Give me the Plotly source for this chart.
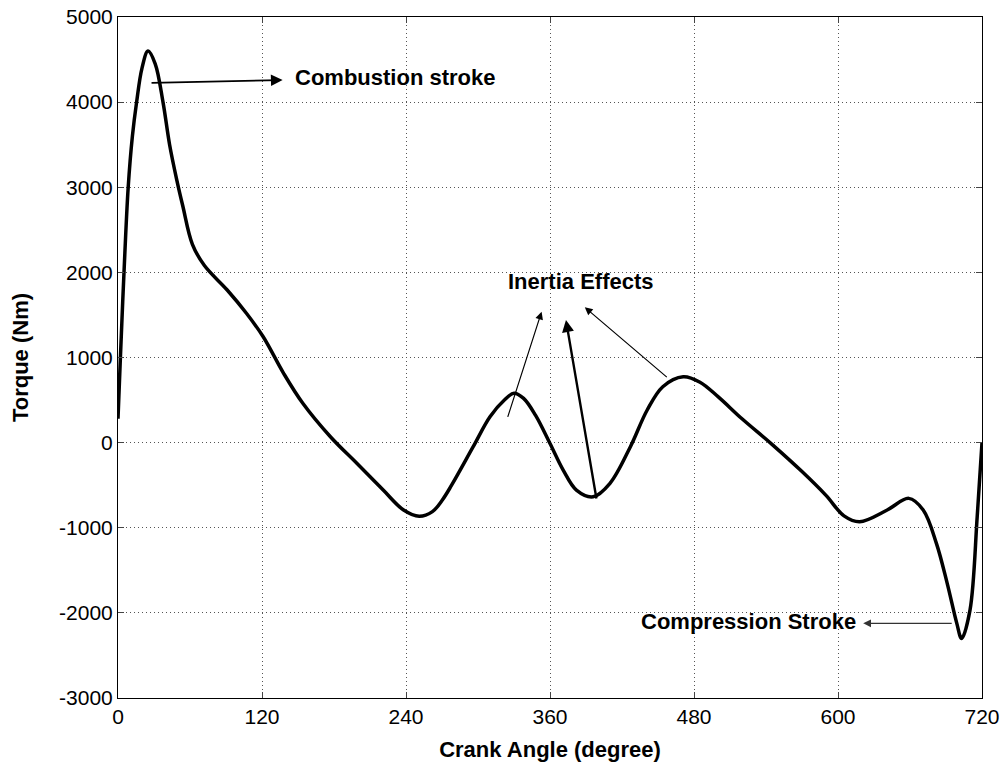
import plotly.graph_objects as go

crank_angle = [0, 2, 5, 8.5, 12, 15.5, 20, 25, 31, 37.5, 43, 49, 54, 62, 72, 91, 107, 121,
               138, 154, 177, 199, 221, 238, 251, 262, 270, 278, 296, 310, 322, 330, 338, 348,
               360, 371, 382, 396, 410, 427, 441, 454, 471, 485, 500, 520, 545, 570, 590, 605,
               618, 641, 659, 671, 682, 691, 699, 703, 710, 716, 720]
torque = [280, 1000, 2000, 3000, 3600, 4000, 4400, 4600, 4450, 4000, 3500, 3085, 2780, 2330,
          2080, 1793, 1520, 1244, 814, 462, 69, -243, -557, -792, -865, -810, -680, -500,
          -48, 304, 500, 580, 520, 320, -10, -322, -557, -636, -478, -48, 383, 657, 774, 710,
          540, 280, -20, -340, -620, -860, -929, -792, -655, -792, -1183, -1653, -2123, -2300,
          -1967, -870, 0]

x_ticks = [0, 120, 240, 360, 480, 600, 720]
y_ticks = [-3000, -2000, -1000, 0, 1000, 2000, 3000, 4000, 5000]

FONT = "Liberation Sans, Arial, sans-serif"

fig = go.Figure()
fig.add_trace(go.Scatter(x=crank_angle, y=torque, mode="lines",
                         line=dict(color="black", width=3.5, shape="spline", smoothing=1.0),
                         showlegend=False, hoverinfo="skip"))

def arrow(x, y, ax, ay, width=1.2, color="black", size=1.3):
    fig.add_annotation(x=x, y=y, ax=ax, ay=ay, xref="x", yref="y", axref="x", ayref="y",
                       text="", showarrow=True, arrowhead=2, arrowsize=size,
                       arrowwidth=width, arrowcolor=color, standoff=0, startstandoff=0)

# Combustion stroke
arrow(137.2, 4260, 26.7, 4225, width=1.8)
fig.add_annotation(x=145.8, y=4284, xref="x", yref="y", text="<b>Combustion stroke</b>",
                   showarrow=False, xanchor="left", yanchor="middle",
                   font=dict(family=FONT, size=22, color="black"))
# Inertia effects
fig.add_annotation(x=385.8, y=1887, xref="x", yref="y", text="<b>Inertia Effects</b>",
                   showarrow=False, xanchor="center", yanchor="middle",
                   font=dict(family=FONT, size=22, color="black"))
arrow(353, 1538, 324.4, 285, width=1.2)
arrow(373.3, 1440, 398.9, -674, width=2.4, size=1.0)
arrow(389, 1590, 458.6, 755, width=1.2)
# Compression stroke
arrow(621, -2123, 696, -2123, width=1.2, color="#333333")
fig.add_annotation(x=617, y=-2100, xref="x", yref="y", text="<b>Compression Stroke</b>",
                   showarrow=False, xanchor="right", yanchor="middle",
                   font=dict(family=FONT, size=22, color="black"))

axis_common = dict(showline=True, linecolor="black", linewidth=1, mirror="ticks",
                   ticks="inside", ticklen=6, tickcolor="#444444", automargin=False,
                   showgrid=True, gridcolor="#555555", gridwidth=1, griddash="1px,3px",
                   zeroline=False, tickfont=dict(family=FONT, size=21, color="black"))

fig.update_xaxes(range=[0, 720], tickvals=x_ticks, ticktext=[str(v) for v in x_ticks],
                 title=dict(text="<b>Crank Angle (degree)</b>", font=dict(family=FONT, size=22, color="black"), standoff=14),
                 **axis_common)
fig.update_yaxes(range=[-3000, 5000], tickvals=y_ticks, ticktext=[str(v) for v in y_ticks],
                 title=dict(text="<b>Torque (Nm)</b>", font=dict(family=FONT, size=22, color="black"), standoff=24),
                 **axis_common)

fig.update_layout(width=1007, height=767, margin=dict(l=118, r=25, t=17, b=69),
                  paper_bgcolor="white", plot_bgcolor="white",
                  font=dict(family=FONT, color="black"))

fig.write_html("out.html")
